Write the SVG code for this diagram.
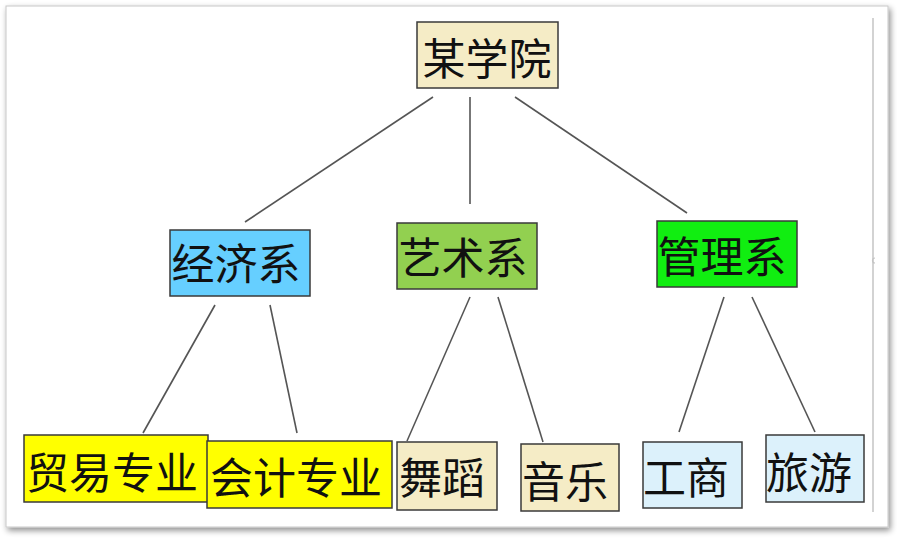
<svg xmlns="http://www.w3.org/2000/svg" width="897" height="540" viewBox="0 0 897 540">
<defs>
<filter id="sh" x="-5%" y="-5%" width="110%" height="110%">
<feGaussianBlur in="SourceAlpha" stdDeviation="3"/>
<feOffset dx="2" dy="3" result="b"/>
<feComponentTransfer><feFuncA type="linear" slope="0.45"/></feComponentTransfer>
<feMerge><feMergeNode/><feMergeNode in="SourceGraphic"/></feMerge>
</filter>
</defs>
<style>
.box{stroke:#3a3a3a;stroke-width:1.5}
.t{font-family:"Noto Sans CJK SC","Noto Sans CJK TC",sans-serif;font-size:43px;fill:#111;text-anchor:middle}
.ln{stroke:#555;stroke-width:1.6;fill:none}
</style>
<rect x="0" y="0" width="897" height="540" fill="#ffffff"/>
<rect x="6" y="6" width="882" height="521" fill="#ffffff" stroke="#c8c8c8" stroke-width="1" filter="url(#sh)"/>
<line x1="873" y1="18" x2="873" y2="512" stroke="#c4c4c4" stroke-width="1.5"/>
<path d="M875,258 a2.5,2.5 0 1 0 0,5" fill="none" stroke="#c4c4c4" stroke-width="1.2"/>
<g id="connectors">
<line class="ln" x1="433" y1="97" x2="245" y2="222"/>
<line class="ln" x1="470" y1="97" x2="470" y2="204"/>
<line class="ln" x1="515" y1="97" x2="687" y2="213"/>
<line class="ln" x1="215" y1="305" x2="143" y2="433"/>
<line class="ln" x1="270" y1="305" x2="297" y2="433"/>
<line class="ln" x1="470" y1="297" x2="407" y2="441"/>
<line class="ln" x1="498" y1="297" x2="543" y2="442"/>
<line class="ln" x1="724" y1="297" x2="679" y2="432"/>
<line class="ln" x1="752" y1="297" x2="815" y2="432"/>
</g>
<g id="n-root"><rect class="box" x="417" y="22" width="141" height="66" fill="#f5ecc6"/><text class="t" x="487" y="75">某学院</text></g>
<g id="n-econ"><rect class="box" x="170" y="230" width="140" height="66" fill="#66cfff"/><text class="t" x="236" y="280">经济系</text></g>
<g id="n-art"><rect class="box" x="397" y="223" width="140" height="66" fill="#92d050"/><text class="t" x="463" y="274">艺术系</text></g>
<g id="n-mgmt"><rect class="box" x="657" y="221" width="140" height="66" fill="#11ee11"/><text class="t" x="722" y="273">管理系</text></g>
<g id="n-trade"><rect class="box" x="24" y="435" width="184" height="67" fill="#ffff00"/><text class="t" x="112" y="489">贸易专业</text></g>
<g id="n-acct"><rect class="box" x="207" y="441" width="185" height="67" fill="#ffff00"/><text class="t" x="296" y="494">会计专业</text></g>
<g id="n-dance"><rect class="box" x="397" y="442" width="100" height="68" fill="#f5ecc6"/><text class="t" x="442" y="494">舞蹈</text></g>
<g id="n-music"><rect class="box" x="521" y="444" width="98" height="67" fill="#f5ecc6"/><text class="t" x="565" y="498">音乐</text></g>
<g id="n-biz"><rect class="box" x="643" y="442" width="99" height="66" fill="#dcf1fb"/><text class="t" x="686" y="494">工商</text></g>
<g id="n-tour"><rect class="box" x="766" y="435" width="98" height="67" fill="#dcf1fb"/><text class="t" x="809" y="489">旅游</text></g>
</svg>
